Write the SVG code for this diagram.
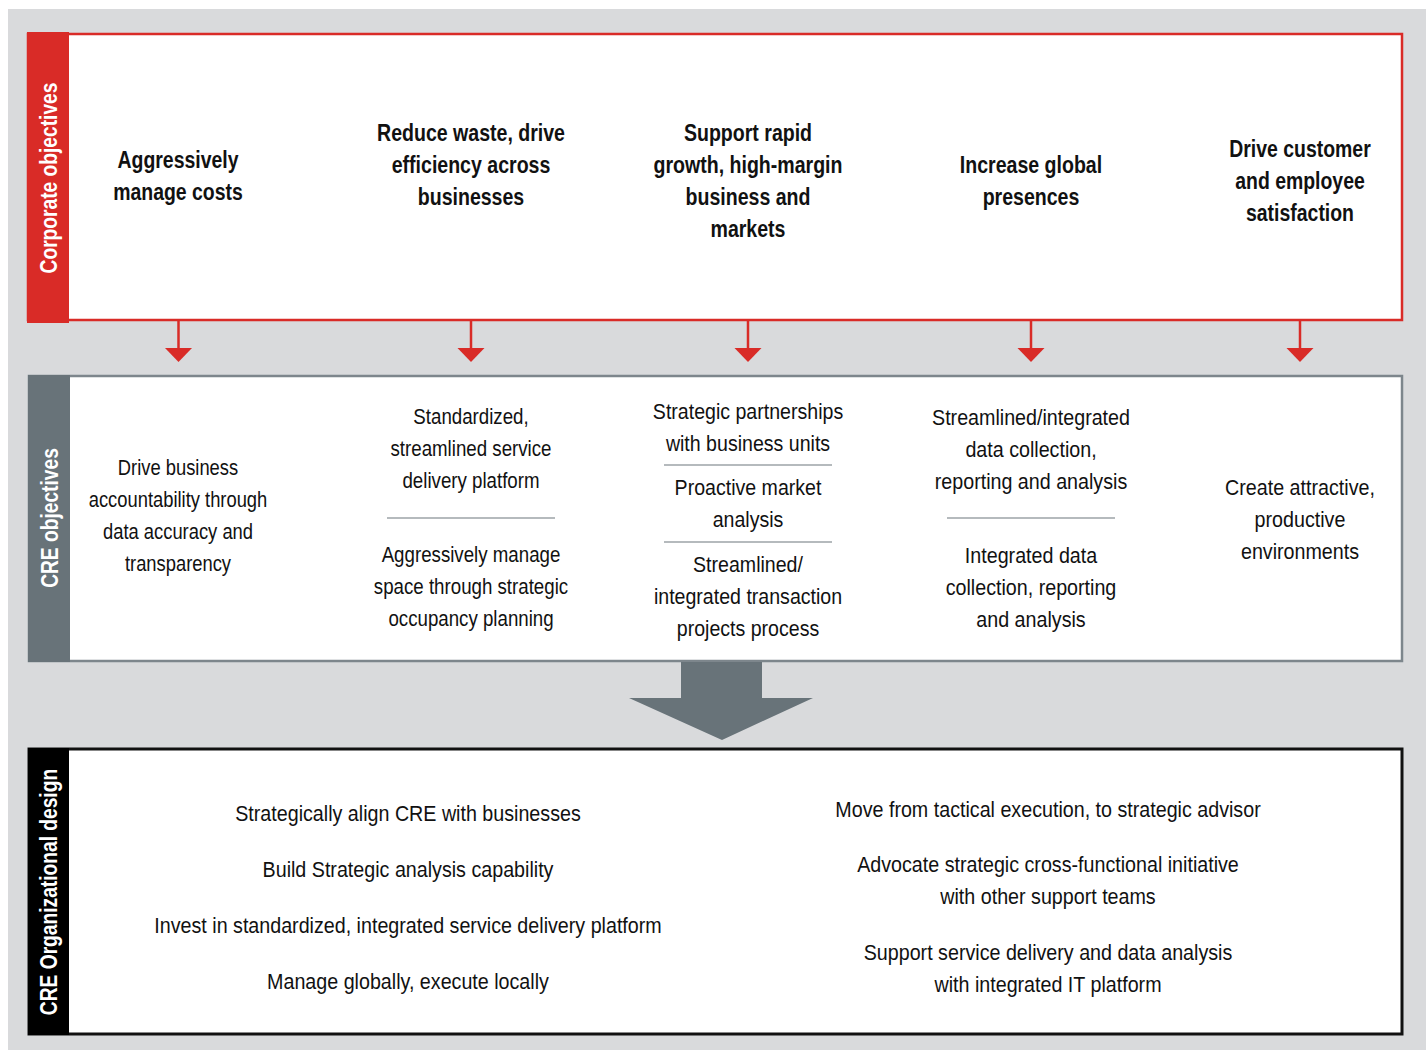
<svg xmlns="http://www.w3.org/2000/svg" width="1426" height="1050" viewBox="0 0 1426 1050">
<style>
.t{font-family:"Liberation Sans",Arial,sans-serif;font-size:22px;fill:#111;text-anchor:middle}
.b{font-family:"Liberation Sans",Arial,sans-serif;font-size:24px;font-weight:bold;fill:#111;text-anchor:middle}
.side{font-family:"Liberation Sans",Arial,sans-serif;font-size:24px;font-weight:bold;fill:#fff;text-anchor:middle}
.div{stroke:#6d767c;stroke-width:1.2}
.red{fill:#d92b27}
</style>
<rect x="8" y="9" width="1418" height="1041" fill="#d9dadc"/>

<g id="corporate-objectives">
  <rect x="28" y="34" width="1374" height="286" fill="#fff" stroke="#d92b27" stroke-width="2.5"/>
  <rect x="27" y="32" width="42" height="291" class="red"/>
  <text class="side" transform="translate(48 178) rotate(-90) scale(0.8 1)" x="0" y="8.5">Corporate objectives</text>
  <g transform="translate(178 0) scale(0.81 1)">
    <text class="b" x="0" y="168">Aggressively</text>
    <text class="b" x="0" y="200">manage costs</text>
  </g>
  <g transform="translate(471 0) scale(0.815 1)">
    <text class="b" x="0" y="141">Reduce waste, drive</text>
    <text class="b" x="0" y="173">efficiency across</text>
    <text class="b" x="0" y="205">businesses</text>
  </g>
  <g transform="translate(748 0) scale(0.815 1)">
    <text class="b" x="0" y="141">Support rapid</text>
    <text class="b" x="0" y="173">growth, high-margin</text>
    <text class="b" x="0" y="205">business and</text>
    <text class="b" x="0" y="237">markets</text>
  </g>
  <g transform="translate(1031 0) scale(0.815 1)">
    <text class="b" x="0" y="173">Increase global</text>
    <text class="b" x="0" y="205">presences</text>
  </g>
  <g transform="translate(1300 0) scale(0.81 1)">
    <text class="b" x="0" y="157">Drive customer</text>
    <text class="b" x="0" y="189">and employee</text>
    <text class="b" x="0" y="221">satisfaction</text>
  </g>
</g>

<g id="cre-objectives">
  <rect x="29" y="376" width="1373" height="285" fill="#fff" stroke="#7d868c" stroke-width="2.5"/>
  <rect x="28" y="375" width="42" height="287" fill="#687379"/>
  <text class="side" transform="translate(49 518) rotate(-90) scale(0.8 1)" x="0" y="8.5">CRE objectives</text>
  <g transform="translate(178 0) scale(0.835 1)">
    <text class="t" x="0" y="475">Drive business</text>
    <text class="t" x="0" y="507">accountability through</text>
    <text class="t" x="0" y="539">data accuracy and</text>
    <text class="t" x="0" y="571">transparency</text>
  </g>
  <g transform="translate(471 0) scale(0.85 1)">
    <text class="t" x="0" y="424">Standardized,</text>
    <text class="t" x="0" y="456">streamlined service</text>
    <text class="t" x="0" y="488">delivery platform</text>
    <text class="t" x="0" y="562">Aggressively manage</text>
    <text class="t" x="0" y="594">space through strategic</text>
    <text class="t" x="0" y="626">occupancy planning</text>
  </g>
  <line class="div" x1="387" y1="518" x2="555" y2="518"/>
  <g transform="translate(748 0) scale(0.89 1)">
    <text class="t" x="0" y="419">Strategic partnerships</text>
    <text class="t" x="0" y="451">with business units</text>
    <text class="t" x="0" y="495">Proactive market</text>
    <text class="t" x="0" y="527">analysis</text>
    <text class="t" x="0" y="572">Streamlined/</text>
    <text class="t" x="0" y="604">integrated transaction</text>
    <text class="t" x="0" y="636">projects process</text>
  </g>
  <line class="div" x1="664" y1="465" x2="832" y2="465"/>
  <line class="div" x1="664" y1="542" x2="832" y2="542"/>
  <g transform="translate(1031 0) scale(0.895 1)">
    <text class="t" x="0" y="425">Streamlined/integrated</text>
    <text class="t" x="0" y="457">data collection,</text>
    <text class="t" x="0" y="489">reporting and analysis</text>
    <text class="t" x="0" y="563">Integrated data</text>
    <text class="t" x="0" y="595">collection, reporting</text>
    <text class="t" x="0" y="627">and analysis</text>
  </g>
  <line class="div" x1="947" y1="518" x2="1115" y2="518"/>
  <g transform="translate(1300 0) scale(0.895 1)">
    <text class="t" x="0" y="495">Create attractive,</text>
    <text class="t" x="0" y="527">productive</text>
    <text class="t" x="0" y="559">environments</text>
  </g>
</g>

<g id="cre-organizational-design">
  <rect x="29" y="749" width="1373" height="285" fill="#fff" stroke="#111" stroke-width="3"/>
  <rect x="28" y="748" width="41" height="287" fill="#000"/>
  <text class="side" transform="translate(48 892) rotate(-90) scale(0.8 1)" x="0" y="8.5">CRE Organizational design</text>
  <g transform="translate(408 0) scale(0.895 1)">
    <text class="t" x="0" y="821">Strategically align CRE with businesses</text>
    <text class="t" x="0" y="877">Build Strategic analysis capability</text>
    <text class="t" x="0" y="933">Invest in standardized, integrated service delivery platform</text>
    <text class="t" x="0" y="989">Manage globally, execute locally</text>
  </g>
  <g transform="translate(1048 0) scale(0.895 1)">
    <text class="t" x="0" y="817">Move from tactical execution, to strategic advisor</text>
    <text class="t" x="0" y="872">Advocate strategic cross-functional initiative</text>
    <text class="t" x="0" y="904">with other support teams</text>
    <text class="t" x="0" y="960">Support service delivery and data analysis</text>
    <text class="t" x="0" y="992">with integrated IT platform</text>
  </g>
</g>

<g id="connectors">
  <g stroke="#d92b27" stroke-width="2.5">
    <line x1="178.5" y1="321" x2="178.5" y2="349"/>
    <line x1="471" y1="321" x2="471" y2="349"/>
    <line x1="748" y1="321" x2="748" y2="349"/>
    <line x1="1031" y1="321" x2="1031" y2="349"/>
    <line x1="1300" y1="321" x2="1300" y2="349"/>
  </g>
  <g class="red">
    <polygon points="165,348 192,348 178.5,362"/>
    <polygon points="457.5,348 484.5,348 471,362"/>
    <polygon points="734.5,348 761.5,348 748,362"/>
    <polygon points="1017.5,348 1044.5,348 1031,362"/>
    <polygon points="1286.5,348 1313.5,348 1300,362"/>
  </g>
  <polygon points="681,662 762,662 762,698 813,698 722,740 629,698 681,698" fill="#687379"/>
</g>
</svg>
